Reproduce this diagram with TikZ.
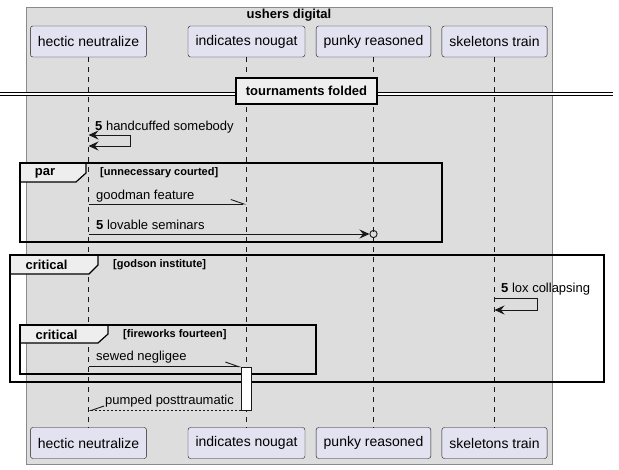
\documentclass[tikz,border=0pt]{standalone}
\usepackage{fontspec}
\setmainfont{Liberation Sans}
\usetikzlibrary{positioning,arrows.meta}
\definecolor{boxfill}{HTML}{DDDDDD}
\definecolor{boxline}{HTML}{8A8A8A}
\definecolor{actorfill}{HTML}{E2E2F0}
\definecolor{linec}{HTML}{181818}
\definecolor{tabfill}{HTML}{EEEEEE}
\begin{document}
\begin{tikzpicture}[x=1pt,y=-1pt,
	actor/.style={draw=linec,fill=actorfill,rounded corners=2.5pt,minimum height=31pt,inner xsep=7.5pt,font=\fontsize{14}{16}\selectfont},
	lifeline/.style={draw=linec,line width=0.6pt,dash pattern=on 5pt off 5pt},
	msg/.style={draw=linec,line width=0.9pt},
	msgtxt/.style={anchor=west,inner sep=0pt,font=\fontsize{13}{15}\selectfont},
	fragment/.style={draw=black,line width=1.6pt},
	fragtab/.style={draw=black,line width=1.2pt,fill=tabfill},
	fragname/.style={inner sep=0pt,font=\bfseries\fontsize{13}{15}\selectfont},
	guard/.style={anchor=west,inner sep=0pt,font=\bfseries\fontsize{11}{13}\selectfont},
	tip/.style={-{Stealth[length=10pt,width=9pt,inset=3.5pt]}},
	twotips/.style={{Stealth[length=10pt,width=9pt,inset=3.5pt]}-{Stealth[length=10pt,width=9pt,inset=3.5pt]}},
	halftip/.style={-{Straight Barb[harpoon,length=13pt,width=9pt]}},
	backtip/.style={-{Straight Barb[harpoon,swap,length=13pt,width=9pt]}}]
	\useasboundingbox (0,0) rectangle (619,469);
	% box
	\draw[boxline,fill=boxfill] (26,7) rectangle (552,464);
	\node[fragname] (title) at (289,15) {ushers digital};
	% participants
	\node[actor] (hnT) at (88.5,41.5) {hectic neutralize};
	\node[actor] (inT) at (246.5,41.5) {indicates nougat};
	\node[actor] (prT) at (373.5,41.5) {punky reasoned};
	\node[actor] (stT) at (494.5,41.5) {skeletons train};
	\node[actor] (hnB) at (88.5,443) {hectic neutralize};
	\node[actor] (inB) at (246.5,443) {indicates nougat};
	\node[actor] (prB) at (373.5,443) {punky reasoned};
	\node[actor] (stB) at (494.5,443) {skeletons train};
	\draw[lifeline] (hnT) -- (hnB);
	\draw[lifeline] (inT) -- (inB);
	\draw[lifeline] (prT) -- (prB);
	\draw[lifeline] (stT) -- (stB);
	% divider
	\draw[line width=1pt,double=white,double distance=2.4pt] (0,94) -- (613,94);
	\node[draw=black,line width=1.8pt,fill=tabfill,minimum width=141pt,minimum height=26pt,inner sep=0pt,font=\bfseries\fontsize{13}{15}\selectfont] (div) at (306.5,91) {tournaments folded};
	% handcuffed somebody
	\coordinate (s1a) at (hnT |- 0,135);
	\coordinate (s1b) at (hnT |- 0,146);
	\draw[msg,twotips] (s1a) -- ++(42,0) |- (s1b);
	\node[msgtxt] (t1) at (95,127) {\textbf{5} handcuffed somebody};
	% par
	\draw[fragtab] (20,163) -- (86,163) -- (86,173) -- (76,182) -- (20,182) -- cycle;
	\draw[fragment] (20,163) rectangle (442,242);
	\node[fragname] (par) at (45,173) {par};
	\node[guard] (g1) at (100,173) {[unnecessary courted]};
	\coordinate (m2a) at (hnT |- 0,204);
	\coordinate (m2b) at (inT |- 0,204);
	\draw[msg,halftip] (m2a) -- (m2b);
	\node[msgtxt] (t2) at (96,196) {goodman feature};
	\coordinate (m3a) at (hnT |- 0,234);
	\coordinate (m3b) at (prT |- 0,234);
	\draw[msg,tip] (m3a) -- ([xshift=-4pt]m3b);
	\draw[msg] (m3b) circle (3.6pt);
	\node[msgtxt] (t3) at (96,225) {\textbf{5} lovable seminars};
	% critical
	\draw[fragtab] (10,255) -- (98,255) -- (98,265) -- (89,274) -- (10,274) -- cycle;
	\draw[fragment] (10,255) rectangle (604,382);
	\node[fragname] (crit1) at (46.5,265) {critical};
	\node[guard] (g2) at (113,265) {[godson institute]};
	\coordinate (s4a) at (stT |- 0,298);
	\coordinate (s4b) at (stT |- 0,310);
	\draw[msg,tip] (s4a) -- ++(43,0) |- (s4b);
	\node[msgtxt] (t4) at (501,289) {\textbf{5} lox collapsing};
	% critical inside
	\draw[fragtab] (20,325) -- (108,325) -- (108,334) -- (98,343) -- (20,343) -- cycle;
	\draw[fragment] (20,325) rectangle (316,374);
	\node[fragname] (crit2) at (56.5,335) {critical};
	\node[guard] (g3) at (123,335) {[fireworks fourteen]};
	\node[draw=linec,fill=white,line width=0.9pt,minimum width=10pt,minimum height=43pt,inner sep=0pt] (act) at (inT |- 0,388.5) {};
	\coordinate (m5a) at (hnT |- act.north);
	\draw[msg,halftip] (m5a) -- (act.north west);
	\node[msgtxt] (t5) at (96,357) {sewed negligee};
	% return
	\coordinate (m6b) at (hnT |- act.south);
	\draw[msg,dash pattern=on 2pt off 2pt,backtip] (act.south west) -- (m6b);
	\node[msgtxt] (t6) at (105,401) {pumped posttraumatic};
\end{tikzpicture}
\end{document}
